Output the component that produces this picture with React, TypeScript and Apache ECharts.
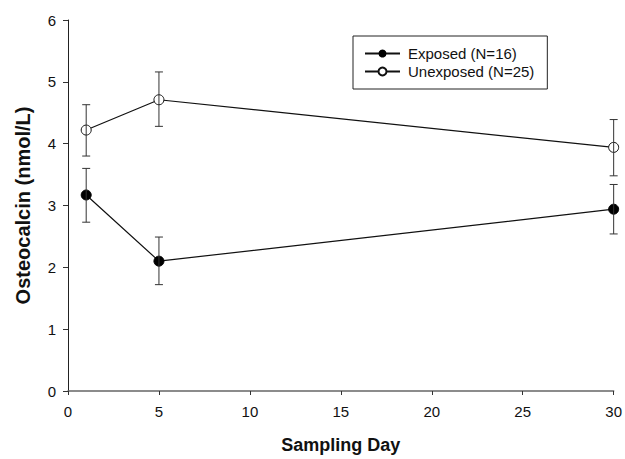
import React, { useEffect, useRef } from "react";
import * as echarts from "echarts";

const days = [1, 5, 30];
const exposedMean = [3.17, 2.1, 2.94];
const exposedLow = [2.73, 1.72, 2.54];
const exposedHigh = [3.6, 2.49, 3.34];
const unexposedMean = [4.22, 4.71, 3.94];
const unexposedLow = [3.8, 4.28, 3.48];
const unexposedHigh = [4.63, 5.16, 4.39];
const seriesNames = ["Exposed (N=16)", "Unexposed (N=25)"];

const FONT = "'Liberation Sans', Arial, sans-serif";

export default function App() {
  const ref = useRef<HTMLDivElement>(null);
  useEffect(() => {
    if (!ref.current) return;
    const chart = echarts.init(ref.current, undefined, { renderer: "svg" });
    const errData = [
      ...days.map((d, i) => [d, exposedLow[i], exposedHigh[i]]),
      ...days.map((d, i) => [d, unexposedLow[i], unexposedHigh[i]]),
    ];
    chart.setOption({
      animation: false,
      backgroundColor: "#fff",
      textStyle: { fontFamily: FONT },
      grid: { left: 68, right: 10, top: 20, bottom: 58, containLabel: false },
      legend: {
        data: seriesNames,
        orient: "vertical",
        left: 353,
        top: 36,
        padding: [10, 13, 10, 11],
        itemGap: 3,
        itemWidth: 35,
        itemHeight: 10,
        borderColor: "#222",
        borderWidth: 1,
        textStyle: { fontFamily: FONT, fontSize: 15, lineHeight: 15, color: "#111", padding: [0, 0, 0, 3] },
      },
      xAxis: {
        type: "value",
        min: 0,
        max: 30,
        interval: 5,
        name: "Sampling Day",
        nameLocation: "middle",
        nameGap: 45,
        nameTextStyle: { fontFamily: FONT, fontSize: 18, fontWeight: "bold", color: "#111" },
        axisLine: { show: true, lineStyle: { color: "#666", width: 1.5 } },
        axisTick: { show: true, length: 4, lineStyle: { color: "#333" } },
        axisLabel: { margin: 13, fontFamily: FONT, fontSize: 15, color: "#111" },
        splitLine: { show: false },
      },
      yAxis: {
        type: "value",
        min: 0,
        max: 6,
        interval: 1,
        name: "Osteocalcin (nmol/L)",
        nameLocation: "middle",
        nameRotate: 90,
        nameGap: 35,
        nameTextStyle: { fontFamily: FONT, fontSize: 20, fontWeight: "bold", color: "#111" },
        axisLine: { show: true, lineStyle: { color: "#222", width: 1 } },
        axisTick: { show: true, length: 5, lineStyle: { color: "#333" } },
        axisLabel: { margin: 12, fontFamily: FONT, fontSize: 15, color: "#111" },
        splitLine: { show: false },
      },
      series: [
        {
          name: seriesNames[0],
          type: "line",
          data: days.map((d, i) => [d, exposedMean[i]]),
          symbol: "circle",
          symbolSize: 10,
          lineStyle: { color: "#111", width: 1.2 },
          itemStyle: { color: "#000", borderColor: "#000" },
          z: 2,
        },
        {
          name: seriesNames[1],
          type: "line",
          data: days.map((d, i) => [d, unexposedMean[i]]),
          symbol: "circle",
          symbolSize: 10,
          lineStyle: { color: "#111", width: 1.2 },
          itemStyle: { color: "#fff", borderColor: "#111", borderWidth: 1 },
          z: 2,
        },
        {
          name: "err",
          type: "custom",
          data: errData,
          z: 3,
          renderItem: (params: any, api: any) => {
            const x = api.value(0);
            const lo = api.coord([x, api.value(1)]);
            const hi = api.coord([x, api.value(2)]);
            const hw = 4;
            const style = { stroke: "#333", lineWidth: 1 };
            return {
              type: "group",
              children: [
                { type: "line", shape: { x1: lo[0], y1: lo[1], x2: hi[0], y2: hi[1] }, style },
                { type: "line", shape: { x1: lo[0] - hw, y1: lo[1], x2: lo[0] + hw, y2: lo[1] }, style },
                { type: "line", shape: { x1: hi[0] - hw, y1: hi[1], x2: hi[0] + hw, y2: hi[1] }, style },
              ],
            };
          },
        },
      ],
    });
    return () => chart.dispose();
  }, []);
  return <div ref={ref} style={{ position: "absolute", left: 0, top: 0, width: 625, height: 459 }} />;
}
